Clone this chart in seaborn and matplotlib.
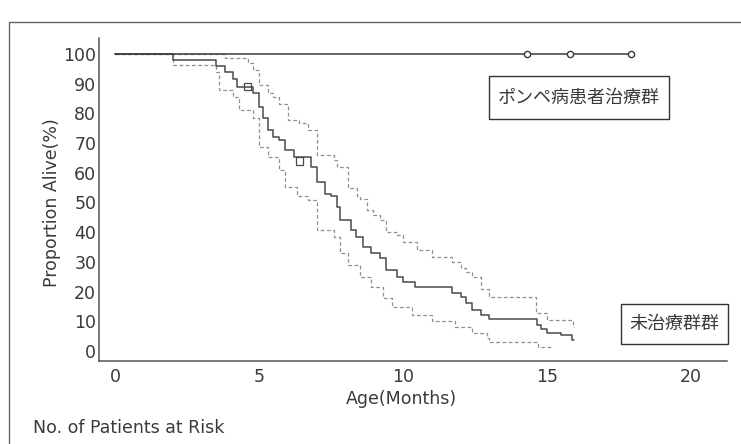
import matplotlib
matplotlib.use("Agg")
import matplotlib.pyplot as plt
import seaborn as sns
import pandas as pd
from matplotlib.patches import Rectangle

# treated group (flat at 100%) and its censor marks
treated_t = [0, 17.9]
treated_s = [100, 100]
treated_cens_t = [14.3, 15.8, 17.9]

# untreated group, Kaplan-Meier estimate (step points)
km_t = [0, 2.0, 3.5, 3.8, 4.1, 4.25, 4.8, 5.0, 5.15, 5.3, 5.5, 5.7, 5.9, 6.2,
        6.8, 7.0, 7.3, 7.5, 7.7, 7.8, 8.2, 8.35, 8.6, 8.9, 9.2, 9.4, 9.8, 10.0,
        10.4, 11.7, 12.0, 12.2, 12.4, 12.7, 13.0, 14.65, 14.8, 15.0, 15.5, 15.85, 15.95]
km_s = [100, 98, 96, 94, 91.5, 89, 87, 82, 78.5, 74.5, 72, 71, 67.7, 65.3,
        62, 57, 53, 52, 48.5, 44, 40.7, 38.4, 35, 33, 31.3, 27.3, 25, 23.3,
        21.5, 19.5, 18, 16, 13.8, 12, 10.8, 8.8, 7.5, 6, 5.4, 3.7, 3.7]
km_cens_t = [4.6, 6.4]
km_cens_s = [89, 64]

# upper / lower 95% confidence limits
up_t = [0, 3.8, 4.6, 4.8, 5.0, 5.3, 5.5, 5.7, 6.0, 6.4, 6.7, 7.0, 7.6, 7.7,
        8.1, 8.4, 8.5, 8.75, 8.95, 9.2, 9.4, 9.8, 10.0, 10.5, 11.0, 11.7,
        12.0, 12.2, 12.4, 12.7, 13.0, 14.6, 15.0, 15.9, 15.95]
up_s = [100, 98.6, 97, 94.6, 89.5, 87, 85.5, 83, 77.8, 76.8, 74.4, 66, 64.3, 62,
        55, 52, 51, 47.5, 45.8, 44, 40, 39, 36.7, 34, 31.5, 30,
        28, 26.6, 25, 21, 18.2, 12.8, 10.4, 8, 8]
lo_t = [0, 2.0, 3.5, 3.6, 4.1, 4.3, 4.8, 5.0, 5.3, 5.7, 5.9, 6.3, 6.7, 7.0,
        7.6, 7.8, 8.1, 8.5, 8.9, 9.3, 9.6, 10.3, 11.0, 11.8, 12.4, 12.9, 13.0,
        14.7, 15.2]
lo_s = [100, 96.3, 94, 88, 85.5, 81, 78.5, 68.7, 65.3, 61, 55.2, 52, 50.7, 40.7,
        38.4, 33, 29, 25, 21.5, 17.8, 14.8, 12, 10, 8, 6, 4.4, 3, 1.3, 1.3]

x_ticks = [0, 5, 10, 15, 20]
y_ticks = list(range(0, 101, 10))

sns.set_style("white")
plt.rcParams["font.family"] = ["DejaVu Sans", "Noto Sans CJK JP"]

W, H = 741, 444
fig = plt.figure(figsize=(W / 100, H / 100), dpi=100)
ax = fig.add_axes([0.1336, 0.187, 0.8475, 0.7275])

grey = "#555555"
txt = "#3a3a3a"
df_km = pd.DataFrame({"t": km_t, "s": km_s})
df_up = pd.DataFrame({"t": up_t, "s": up_s})
df_lo = pd.DataFrame({"t": lo_t, "s": lo_s})
df_tr = pd.DataFrame({"t": treated_t, "s": treated_s})

for d in (df_up, df_lo):
    sns.lineplot(data=d, x="t", y="s", ax=ax, estimator=None, sort=False,
                 drawstyle="steps-post", color="#909090", lw=0.9,
                 linestyle=(0, (3, 2)))
sns.lineplot(data=df_km, x="t", y="s", ax=ax, estimator=None, sort=False,
             drawstyle="steps-post", color="#4a4a4a", lw=1.1)
sns.lineplot(data=df_tr, x="t", y="s", ax=ax, estimator=None, sort=False,
             color="#3a3a3a", lw=1.1)
sns.scatterplot(x=treated_cens_t, y=[100] * len(treated_cens_t), ax=ax,
                marker="o", s=20, facecolor="white", edgecolor="#3a3a3a",
                linewidth=1.0, zorder=5)
sns.scatterplot(x=km_cens_t, y=km_cens_s, ax=ax, marker="s", s=28,
                facecolor="none", edgecolor="#4a4a4a", linewidth=0.9, zorder=5)

ax.set_xlim(-0.56, 21.25)
ax.set_ylim(-3.4, 105.4)
ax.set_xticks(x_ticks)
ax.set_yticks(y_ticks)
ax.tick_params(direction="in", length=6, width=1, color=grey,
               labelsize=12.5, labelcolor=txt)
ax.tick_params(axis="y", pad=2)
ax.tick_params(axis="x", pad=5)
for side in ["top", "right"]:
    ax.spines[side].set_visible(False)
for side in ["left", "bottom"]:
    ax.spines[side].set_color(grey)
    ax.spines[side].set_linewidth(1.1)
ax.set_xlabel("")
ax.set_ylabel("")

# label boxes (pixel positions from the reference)
def label_box(x0, y0, x1, y1, s):
    fig.patches.append(Rectangle((x0 / W, 1 - y1 / H), (x1 - x0) / W, (y1 - y0) / H,
                                 transform=fig.transFigure, facecolor="white",
                                 edgecolor="#333333", lw=1.0, zorder=3))
    fig.text((x0 + x1) / 2 / W, 1 - (y0 + y1) / 2 / H, s, ha="center", va="center",
             fontsize=13, color=txt, family=["Noto Sans CJK JP"], zorder=4)

label_box(489, 76, 669, 119, "ポンペ病患者治療群")
label_box(621, 304, 728, 344, "未治療群群")

fig.text(52 / W, 1 - 203 / H, "Proportion Alive(%)", rotation=90,
         ha="center", va="center", fontsize=12.5, color=txt)
fig.text(401 / W, 1 - 399 / H, "Age(Months)", ha="center", va="center",
         fontsize=12.5, color=txt)
fig.text(33 / W, 1 - 428 / H, "No. of Patients at Risk", ha="left",
         va="center", fontsize=12.5, color=txt)

# outer frame of the figure panel
fig.patches.append(Rectangle((9 / W, -0.1), 1.2, 1 - 22 / H + 0.1,
                             transform=fig.transFigure, fill=False,
                             edgecolor="#666666", lw=1.0))

fig.savefig("out.png", dpi=100)
